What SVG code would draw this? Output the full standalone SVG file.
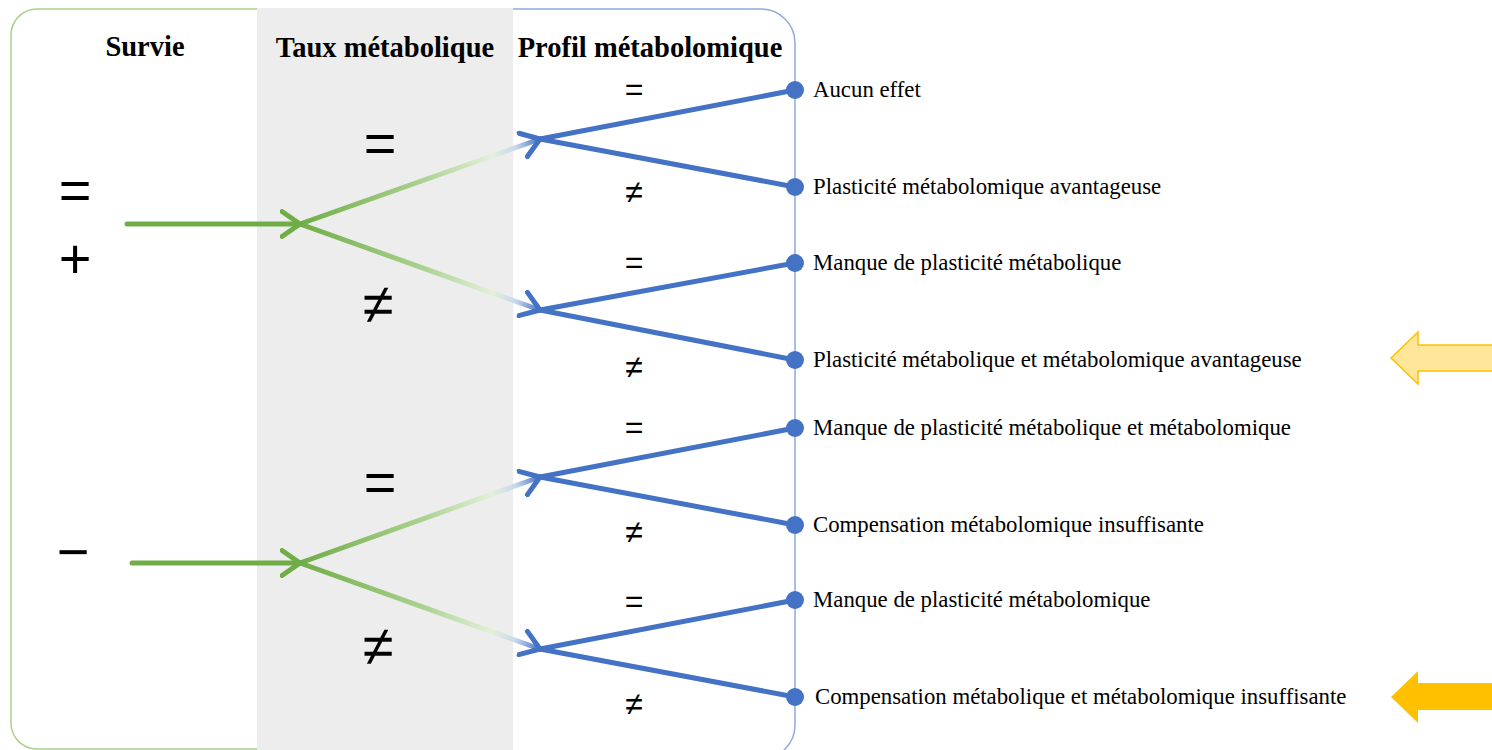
<svg xmlns="http://www.w3.org/2000/svg" width="1492" height="750" viewBox="0 0 1492 750">
<style>
.hdr{font-family:"Liberation Serif","Times New Roman",serif;font-weight:bold;font-size:28.5px;fill:#000;text-anchor:middle}
.lbl{font-family:"Liberation Serif","Times New Roman",serif;font-size:22.8px;fill:#000}
.big{font-family:"Liberation Sans",Arial,sans-serif;font-size:56px;fill:#000;text-anchor:middle;dominant-baseline:central}
.sm{font-family:"Liberation Sans",Arial,sans-serif;font-size:32px;fill:#000;text-anchor:middle;dominant-baseline:central}
.gl{stroke:#70AD47;stroke-width:5;fill:none;stroke-linecap:round}
.bl{stroke:#4472C4;stroke-width:5;fill:none;stroke-linecap:round}
.gr{stroke-width:5;fill:none}
.dot{fill:#4472C4}
</style>
<defs>
<marker id="gh" markerUnits="userSpaceOnUse" markerWidth="30" markerHeight="30" refX="20" refY="15" orient="auto">
<path d="M2,2.5 L20,15 L2,27.5" fill="none" stroke="#70AD47" stroke-width="5" stroke-linecap="round" stroke-linejoin="round"/>
</marker>
<marker id="bh" markerUnits="userSpaceOnUse" markerWidth="30" markerHeight="30" refX="20" refY="15" orient="auto">
<path d="M2,2.5 L20,15 L2,27.5" fill="none" stroke="#4472C4" stroke-width="5" stroke-linecap="round" stroke-linejoin="round"/>
</marker>
<linearGradient id="g1" gradientUnits="userSpaceOnUse" x1="300" y1="224" x2="540" y2="139">
<stop offset="0" stop-color="#70AD47"/><stop offset="0.5" stop-color="#A9D18E"/><stop offset="0.8" stop-color="#E2F0D9"/><stop offset="0.9" stop-color="#C9D7EE"/><stop offset="1" stop-color="#4472C4"/>
</linearGradient>
<linearGradient id="g2" gradientUnits="userSpaceOnUse" x1="300" y1="224" x2="540" y2="310">
<stop offset="0" stop-color="#70AD47"/><stop offset="0.5" stop-color="#A9D18E"/><stop offset="0.8" stop-color="#E2F0D9"/><stop offset="0.9" stop-color="#C9D7EE"/><stop offset="1" stop-color="#4472C4"/>
</linearGradient>
<linearGradient id="g3" gradientUnits="userSpaceOnUse" x1="300" y1="563" x2="540" y2="477">
<stop offset="0" stop-color="#70AD47"/><stop offset="0.5" stop-color="#A9D18E"/><stop offset="0.8" stop-color="#E2F0D9"/><stop offset="0.9" stop-color="#C9D7EE"/><stop offset="1" stop-color="#4472C4"/>
</linearGradient>
<linearGradient id="g4" gradientUnits="userSpaceOnUse" x1="300" y1="563" x2="540" y2="649">
<stop offset="0" stop-color="#70AD47"/><stop offset="0.5" stop-color="#A9D18E"/><stop offset="0.8" stop-color="#E2F0D9"/><stop offset="0.9" stop-color="#C9D7EE"/><stop offset="1" stop-color="#4472C4"/>
</linearGradient>
</defs>
<rect width="1492" height="750" fill="#fff"/>
<g id="panels">
<rect id="survie-panel" x="11" y="9" width="320" height="740" rx="26" ry="26" fill="#fff" stroke="#A9D18E" stroke-width="1.5"/>
<rect id="profil-panel" x="470" y="9" width="325" height="750" rx="34" ry="34" fill="#fff" stroke="#8FAADC" stroke-width="1.5"/>
<rect id="taux-panel" x="257" y="8" width="256" height="742" fill="#EDEDED"/>
</g>
<g id="headers">
<text class="hdr" x="145" y="56">Survie</text>
<text class="hdr" x="385" y="57">Taux métabolique</text>
<text class="hdr" x="650" y="57">Profil métabolomique</text>
</g>
<g id="symbols">
<text class="big" x="75" y="189">=</text>
<text class="big" x="75" y="258">+</text>
<text class="big" x="73" y="551">−</text>
<text class="big" x="380" y="142">=</text>
<text class="big" x="378" y="303">≠</text>
<text class="big" x="380" y="481">=</text>
<text class="big" x="378" y="645">≠</text>
<text class="sm" x="634" y="89">=</text>
<text class="sm" x="634" y="192">≠</text>
<text class="sm" x="634" y="262">=</text>
<text class="sm" x="634" y="367">≠</text>
<text class="sm" x="634" y="427">=</text>
<text class="sm" x="634" y="532">≠</text>
<text class="sm" x="634" y="601">=</text>
<text class="sm" x="634" y="704">≠</text>
</g>
<g id="connectors">
<line class="gl" x1="127" y1="224" x2="300" y2="224" marker-end="url(#gh)"/>
<line class="gr" x1="300" y1="224" x2="540" y2="139" stroke="url(#g1)" marker-end="url(#bh)"/>
<line class="gr" x1="300" y1="224" x2="540" y2="310" stroke="url(#g2)" marker-end="url(#bh)"/>
<line class="gl" x1="132" y1="563" x2="300" y2="563" marker-end="url(#gh)"/>
<line class="gr" x1="300" y1="563" x2="540" y2="477" stroke="url(#g3)" marker-end="url(#bh)"/>
<line class="gr" x1="300" y1="563" x2="540" y2="649" stroke="url(#g4)" marker-end="url(#bh)"/>
<line class="bl" x1="540" y1="139" x2="795" y2="90"/>
<line class="bl" x1="540" y1="139" x2="795" y2="187"/>
<line class="bl" x1="540" y1="310" x2="795" y2="263"/>
<line class="bl" x1="540" y1="310" x2="795" y2="360"/>
<line class="bl" x1="540" y1="477" x2="795" y2="428"/>
<line class="bl" x1="540" y1="477" x2="795" y2="525"/>
<line class="bl" x1="540" y1="649" x2="795" y2="600"/>
<line class="bl" x1="540" y1="649" x2="795" y2="697"/>
</g>
<g id="n1"><circle class="dot" cx="795" cy="90" r="9"/><text class="lbl" x="813" y="97">Aucun effet</text></g>
<g id="n2"><circle class="dot" cx="795" cy="187" r="9"/><text class="lbl" x="813" y="194">Plasticité métabolomique avantageuse</text></g>
<g id="n3"><circle class="dot" cx="795" cy="263" r="9"/><text class="lbl" x="813" y="270">Manque de plasticité métabolique</text></g>
<g id="n4"><circle class="dot" cx="795" cy="360" r="9"/><text class="lbl" x="813" y="367">Plasticité métabolique et métabolomique avantageuse</text></g>
<g id="n5"><circle class="dot" cx="795" cy="428" r="9"/><text class="lbl" x="813" y="435">Manque de plasticité métabolique et métabolomique</text></g>
<g id="n6"><circle class="dot" cx="795" cy="525" r="9"/><text class="lbl" x="813" y="532">Compensation métabolomique insuffisante</text></g>
<g id="n7"><circle class="dot" cx="795" cy="600" r="9"/><text class="lbl" x="813" y="607">Manque de plasticité métabolomique</text></g>
<g id="n8"><circle class="dot" cx="795" cy="697" r="9"/><text class="lbl" x="815" y="704">Compensation métabolique et métabolomique insuffisante</text></g>
<g id="arrow-light"><polygon points="1391,358 1418,332 1418,345 1496,345 1496,371 1418,371 1418,384" fill="#FFE699" stroke="#FFC000" stroke-width="1.5"/></g>
<g id="arrow-solid"><polygon points="1391,697 1418,671 1418,683 1496,683 1496,710 1418,710 1418,723" fill="#FFC000"/></g>
</svg>
